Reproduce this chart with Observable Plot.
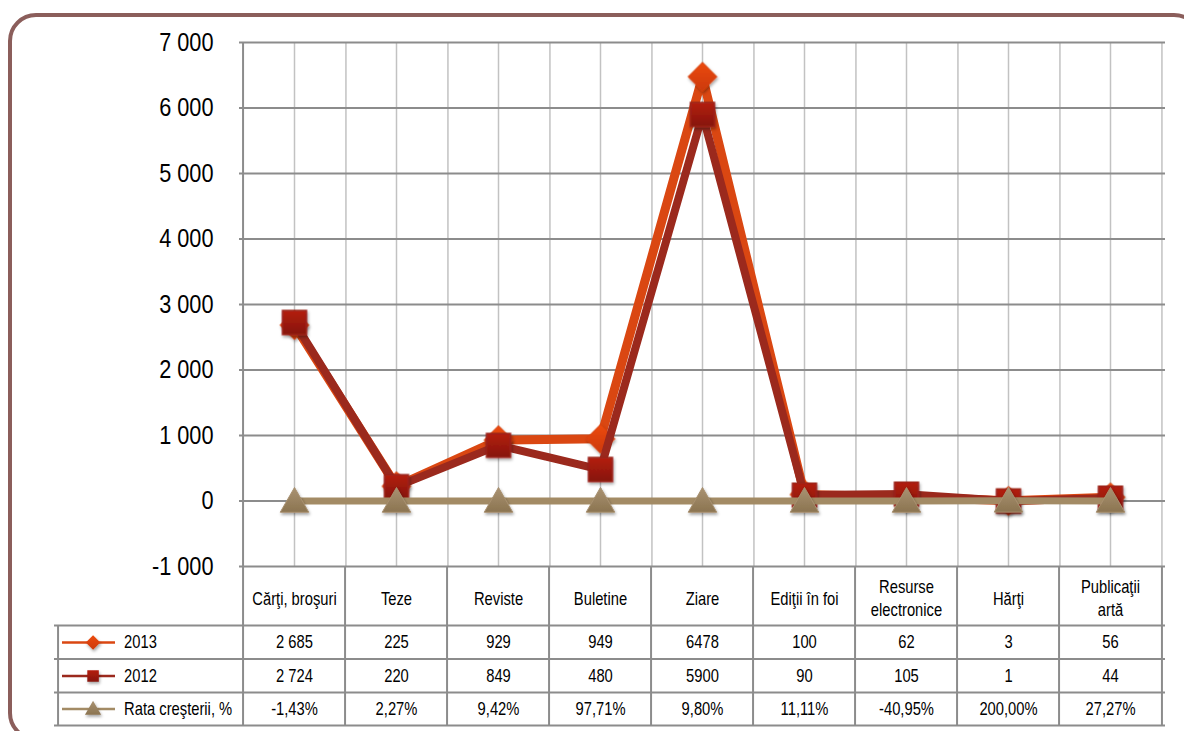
<!DOCTYPE html>
<html><head><meta charset="utf-8">
<script src="https://cdn.jsdelivr.net/npm/d3@7"></script>
<script src="https://cdn.jsdelivr.net/npm/@observablehq/plot@0.6"></script>
<style>
body{margin:0;background:#fff;overflow:hidden;width:1184px;height:731px;position:relative}
#frame{position:absolute;left:8px;top:13px;width:1194px;height:728px;border:4px solid #8B5E5B;border-radius:28px;box-sizing:border-box}
#chart{position:absolute;left:0;top:0}
</style></head>
<body><div id="frame"></div><div id="chart"></div>
<script>
// ---- data ----
const keys = ["Cărţi, broşuri","Teze","Reviste","Buletine","Ziare","Ediţii în foi","Resurse electronice","Hărţi","Publicaţii artă"];
const headerLabels = ["Cărţi, broşuri","Teze","Reviste","Buletine","Ziare","Ediţii în foi","Resurse\nelectronice","Hărţi","Publicaţii\nartă"];
const v2013 = [2685,225,929,949,6478,100,62,3,56];
const v2012 = [2724,220,849,480,5900,90,105,1,44];
const rate = [-1.43,2.27,9.42,97.71,9.80,11.11,-40.95,200.00,27.27];
const lab2013 = ["2 685","225","929","949","6478","100","62","3","56"];
const lab2012 = ["2 724","220","849","480","5900","90","105","1","44"];
const yTicks = [-1000,0,1000,2000,3000,4000,5000,6000,7000];
const seriesNames = ["2013","2012","Rata creşterii, %"];

// ---- layout ----
const W=1184,H=731,ML=239,MR=19,MT=42,MB=165;
const step=(W-ML-MR)/keys.length;
const plotH=H-MT-MB;
const pxToY = px => -1000 - px*8000/plotH;
const legW = 185;
const FONT = "'Liberation Sans',Arial,sans-serif";
const NARROW = 0.82;

const loc = d3.formatLocale({decimal:",",thousands:" ",grouping:[3],currency:["",""],minus:"-"});
const fmtY = loc.format(",");
const fmtRate = v => loc.format(".2f")(v) + "%";

const d13 = keys.map((k,i)=>({k, v:v2013[i], t:lab2013[i]}));
const d12 = keys.map((k,i)=>({k, v:v2012[i], t:lab2012[i]}));
const dR  = keys.map((k,i)=>({k, v:rate[i]/100, t:fmtRate(rate[i])}));
const hdr = keys.map((k,i)=>({k, t:headerLabels[i]}));
const leg = seriesNames.map((s,i)=>({s,i}));

const C13="#DA4712", C12="#9B291D", CR="#A38B65";
const gridDark="#8c8c8c", gridLight="#c2c2c2", tbl="#8c8c8c";
const rowC=[31,76,109.5,142.5];
const rowE=[59,92.5,126,159];
const legDx = (x) => x - (ML + step/2);
const TS = 18;

const plot = Plot.plot({
  width:W, height:H, marginLeft:ML, marginRight:MR, marginTop:MT, marginBottom:MB,
  style:{fontFamily:FONT, background:"transparent", overflow:"visible", color:"#000"},
  x:{type:"point", domain:keys, padding:0.5, axis:null},
  y:{domain:[-1000,7000]},
  marks:[
    // grid
    Plot.ruleX(keys,{y1:-1000,y2:7000,stroke:gridLight,strokeWidth:1.5}),
    Plot.ruleX(keys,{y1:-1000,y2:7000,dx:step/2,stroke:gridLight,strokeWidth:1.5}),
    Plot.ruleY(yTicks,{stroke:gridDark,strokeWidth:2}),
    Plot.ruleX([keys[0]],{y1:-1000,y2:7000,dx:-step/2,stroke:gridDark,strokeWidth:2}),
    Plot.axisY({ticks:yTicks, tickFormat:fmtY, tickSize:0, tickPadding:26, fontSize:26.5, label:null}),
    // table lines
    Plot.ruleX(keys,{y1:pxToY(0),y2:pxToY(rowE[3]),dx:-step/2,stroke:tbl,strokeWidth:2}),
    Plot.ruleX([keys[keys.length-1]],{y1:pxToY(0),y2:pxToY(rowE[3]),dx:step/2,stroke:tbl,strokeWidth:2}),
    Plot.ruleX([keys[0]],{y1:pxToY(rowE[0]),y2:pxToY(rowE[3]),dx:-step/2-legW,stroke:tbl,strokeWidth:2}),
    Plot.ruleY(rowE.map(pxToY),{insetLeft:-legW,stroke:tbl,strokeWidth:2}),
    // series
    Plot.line(d13,{x:"k",y:"v",stroke:C13,strokeWidth:9}),
    Plot.dot(d13,{x:"k",y:"v",symbol:"diamond2",r:13,fill:"url(#g13)",stroke:"#D8420E",strokeWidth:1}),
    Plot.line(d12,{x:"k",y:"v",stroke:C12,strokeWidth:8}),
    Plot.dot(d12,{x:"k",y:"v",symbol:"square",r:13.5,fill:"url(#g12)",stroke:"#9B2418",strokeWidth:1.5}),
    Plot.line(dR,{x:"k",y:"v",stroke:CR,strokeWidth:7}),
    Plot.dot(dR,{x:"k",y:"v",symbol:"triangle",r:10.6,dy:3,fill:"url(#gR)",stroke:"#A89070",strokeWidth:1}),
    // table text
    Plot.text(hdr,{x:"k",y:-1000,dy:rowC[0],text:"t",fontSize:TS,lineHeight:1.25,fill:"#000"}),
    Plot.text(d13,{x:"k",y:-1000,dy:rowC[1],text:"t",fontSize:TS,fill:"#000"}),
    Plot.text(d12,{x:"k",y:-1000,dy:rowC[2],text:"t",fontSize:TS,fill:"#000"}),
    Plot.text(dR,{x:"k",y:-1000,dy:rowC[3],text:"t",fontSize:TS,fill:"#000"}),
    // legend
    ...leg.map(d=>Plot.text([d],{x:()=>keys[0],y:-1000,dy:rowC[d.i+1],dx:legDx(120),text:"s",fontSize:TS,textAnchor:"start",fill:"#000"})),
    ...leg.map((d,i)=>Plot.ruleY([-1000],{dy:rowC[i+1],insetLeft:-(ML-62),insetRight:(W-MR-115),stroke:[C13,C12,CR][i],strokeWidth:2.5})),
    Plot.dot([leg[0]],{x:()=>keys[0],y:-1000,dy:rowC[1],dx:legDx(89),symbol:"diamond2",r:6.5,fill:"url(#g13)"}),
    Plot.dot([leg[1]],{x:()=>keys[0],y:-1000,dy:rowC[2],dx:legDx(89),symbol:"square",r:6.5,fill:"url(#g12)"}),
    Plot.dot([leg[2]],{x:()=>keys[0],y:-1000,dy:rowC[3]+1,dx:legDx(89),symbol:"triangle",r:6,fill:"url(#gR)"})
  ]
});
document.getElementById("chart").appendChild(plot);

const svg = d3.select(plot);
const defs = svg.insert("defs",":first-child");
function grad(id,a,b){const g=defs.append("linearGradient").attr("id",id).attr("x1",0).attr("y1",0).attr("x2",0).attr("y2",1);
  g.append("stop").attr("offset","0%").attr("stop-color",a); g.append("stop").attr("offset","100%").attr("stop-color",b);}
grad("g13","#EC4A0A","#CC3A0A");
grad("g12","#B41E10","#86160E");
grad("gR","#A99272","#8B7450");
const f=defs.append("filter").attr("id","sh").attr("x","-50%").attr("y","-50%").attr("width","200%").attr("height","200%");
f.append("feDropShadow").attr("dx",1).attr("dy",2).attr("stdDeviation",1.5).attr("flood-color","#000").attr("flood-opacity",0.35);
svg.selectAll('g[aria-label="dot"]').attr("filter","url(#sh)");
// narrow the type (Arial Narrow look)
svg.selectAll("text").each(function(){
  const x=this.getAttribute("x");
  let t=this.getAttribute("transform")||"";
  if (x!==null){ t += ` translate(${x},0)`; this.removeAttribute("x"); }
  this.setAttribute("transform", (t+` scale(${NARROW},1)`).trim());
});
</script>
</body></html>
